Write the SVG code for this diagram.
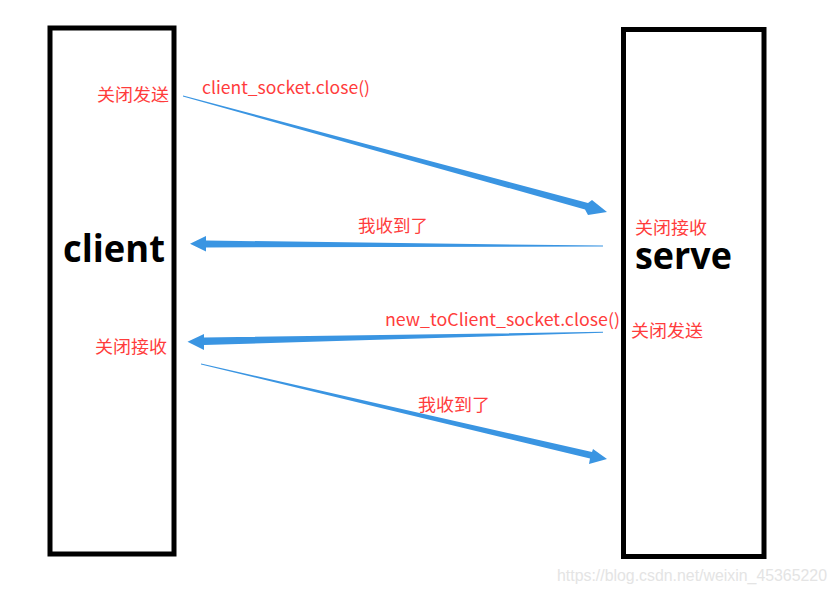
<svg xmlns="http://www.w3.org/2000/svg" width="837" height="594" viewBox="0 0 837 594">
<style>
.box{fill:#fff;stroke:#000;stroke-width:5}
.lbl{font-family:"Noto Sans CJK SC","Noto Sans",sans-serif;font-size:17px;fill:#ff3c3c}
.big{font-family:"Open Sans","Noto Sans",sans-serif;font-weight:bold;font-size:38px;fill:#000}
.arr{fill:#3a95e2}
.wm{font-family:"Liberation Sans",Arial,sans-serif;font-size:16px;fill:#e4e4e4}
</style>
<rect width="837" height="594" fill="#fff"/>
<g id="client">
<rect class="box" x="50" y="28" width="124" height="526"/>
<text class="big" x="63" y="262" textLength="102" lengthAdjust="spacingAndGlyphs">client</text>
</g>
<g id="serve">
<rect class="box" x="623.5" y="29.5" width="140.5" height="527"/>
<text class="big" x="635" y="269" textLength="97" lengthAdjust="spacingAndGlyphs">serve</text>
</g>
<g id="connectors">
<polygon class="arr" points="183.1,95.5 588,203 592,200 607,212 588,215 585,209.5 182.9,96.5"/>
<polygon class="arr" points="603,245.6 206,240.5 206,236 190,243.8 206,251.5 206,247.5 603,246.4"/>
<polygon class="arr" points="603,331.8 204,337.5 204,334 187.5,341.7 204,350 204,345 603,332.8"/>
<polygon class="arr" points="201,363.5 592,452 593,449 607,459 589,464 590,458.5 201,364.5"/>
</g>
<g id="labels">
<text class="lbl" x="97" y="101" textLength="72" lengthAdjust="spacingAndGlyphs">关闭发送</text>
<text class="lbl" x="202" y="94" textLength="168" lengthAdjust="spacingAndGlyphs">client_socket.close()</text>
<text class="lbl" x="358" y="232" textLength="70" lengthAdjust="spacingAndGlyphs">我收到了</text>
<text class="lbl" x="635" y="234" textLength="72" lengthAdjust="spacingAndGlyphs">关闭接收</text>
<text class="lbl" x="385" y="326" textLength="235" lengthAdjust="spacingAndGlyphs">new_toClient_socket.close()</text>
<text class="lbl" x="631" y="337" textLength="72" lengthAdjust="spacingAndGlyphs">关闭发送</text>
<text class="lbl" x="95" y="353" textLength="72" lengthAdjust="spacingAndGlyphs">关闭接收</text>
<text class="lbl" x="418" y="411" textLength="72" lengthAdjust="spacingAndGlyphs">我收到了</text>
</g>
<text class="wm" x="557" y="581" textLength="270" lengthAdjust="spacingAndGlyphs">https://blog.csdn.net/weixin_45365220</text>
</svg>
